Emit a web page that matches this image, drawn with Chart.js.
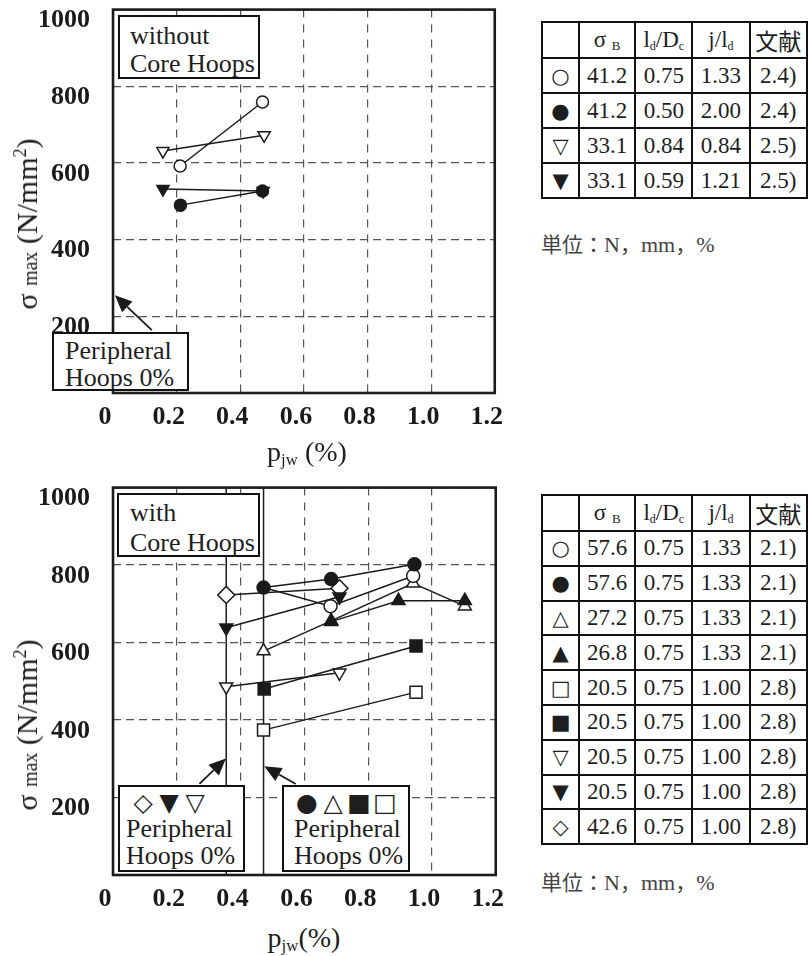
<!DOCTYPE html>
<html>
<head>
<meta charset="utf-8">
<script src="https://cdn.jsdelivr.net/npm/chart.js@4.4.1/dist/chart.umd.min.js"></script>
<style>
  html, body { margin: 0; padding: 0; background: #fff; }
  body { width: 808px; height: 956px; position: relative; overflow: hidden;
         font-family: "Liberation Serif", "Times New Roman", serif; color: #1e1e1e; }
  canvas { position: absolute; left: 0; }
  .box { position: absolute; background: #fff; border: 2px solid #111; box-sizing: border-box;
         font-size: 26px; line-height: 28px; overflow: hidden; white-space: nowrap; }
  .sym { display: inline-block; width: 26px; text-align: center; font-family: "DejaVu Sans"; }
  .title { position: absolute; white-space: nowrap; transform: translate(-50%, -50%); line-height: 1; }
  .ytitle { font-size: 30px; transform: translate(-50%, -50%) rotate(-90deg); }
  .xtitle { font-size: 28px; }
  sub { font-size: 0.6em; vertical-align: -0.25em; line-height: 0; }
  sup { font-size: 0.6em; vertical-align: 0.6em; line-height: 0; }
  table { position: absolute; left: 541px; border-collapse: collapse; table-layout: fixed; font-size: 23px; }
  td { border: 2px solid #111; text-align: center; padding: 0; white-space: nowrap; }
  td.s { font-family: "DejaVu Sans"; font-size: 21px; }
  td.cjk, .unit { font-family: "Noto Sans CJK JP"; }
  .unit { position: absolute; left: 541px; font-size: 21px; color: #444; }
  .unit span { font-family: "Liberation Serif"; font-size: 22px; }
</style>
</head>
<body>
<canvas id="topChart" width="520" height="469" style="top:-29px"></canvas>
<canvas id="botChart" width="521" height="473" style="top:449px"></canvas>

<div class="box" style="left:118px;top:15px;width:142px;height:64px;padding:5px 0 0 10px">without<br>Core Hoops</div>
<div class="box" style="left:52px;top:332px;width:137px;height:59px;padding:3px 0 0 11px;line-height:27px">Peripheral<br>Hoops 0%</div>

<div class="box" style="left:117px;top:493px;width:143px;height:64px;padding:3px 0 0 11px;line-height:30px">with<br>Core Hoops</div>
<div class="box" style="left:118px;top:785px;width:127px;height:87px;padding:4px 0 0 6px;line-height:27px">
  <div style="font-size:25px;line-height:24px;padding-left:4px"><span class="sym">◇</span><span class="sym">▼</span><span class="sym">▽</span></div>Peripheral<br>Hoops 0%</div>
<div class="box" style="left:282px;top:785px;width:128px;height:87px;padding:4px 0 0 10px;line-height:27px">
  <div style="font-size:25px;line-height:24px"><span class="sym">●</span><span class="sym">△</span><span class="sym">■</span><span class="sym">□</span></div>Peripheral<br>Hoops 0%</div>

<div class="title ytitle" style="left:27px;top:224px">σ <span style="font-size:20px">max</span> (N/mm<sup>2</sup>)</div>
<div class="title ytitle" style="left:27px;top:725px">σ <span style="font-size:20px">max</span> (N/mm<sup>2</sup>)</div>
<div class="title xtitle" style="left:307px;top:452px">p<sub>jw</sub> (%)</div>
<div class="title xtitle" style="left:304px;top:938px">p<sub>jw</sub>(%)</div>

<table id="topTable" style="top:21px"></table>
<div class="unit" style="top:228px">単位：<span>N</span>，<span>mm</span>，<span>%</span></div>
<table id="botTable" style="top:494px"></table>
<div class="unit" style="top:866px">単位：<span>N</span>，<span>mm</span>，<span>%</span></div>

<script>
// axis ticks
const xTickValues = [0, 0.2, 0.4, 0.6, 0.8, 1.0, 1.2];
const xTickLabels = ['0', '0.2', '0.4', '0.6', '0.8', '1.0', '1.2'];
const yTickValues = [0, 200, 400, 600, 800, 1000];
const yTickLabels = ['', '200', '400', '600', '800', '1000'];

// upper chart: without core hoops (p_jw %, sigma_max N/mm2)
const topOpenCircleX = [0.211, 0.470];
const topOpenCircleY = [592, 759];
const topFilledCircleX = [0.212, 0.470];
const topFilledCircleY = [490, 527];
const topOpenDownX = [0.157, 0.475];
const topOpenDownY = [631, 672];
const topFilledDownX = [0.157, 0.472];
const topFilledDownY = [532, 527];

// lower chart: with core hoops
const zeroHoopX = [0.355, 0.472];
const botOpenCircleX = [0.472, 0.682, 0.941];
const botOpenCircleY = [742, 694, 772];
const botFilledCircleX = [0.472, 0.684, 0.945];
const botFilledCircleY = [742, 764, 802];
const botOpenUpX = [0.472, 0.684, 0.941, 1.103];
const botOpenUpY = [578, 656, 753, 694];
const botFilledUpX = [0.684, 0.895, 1.103];
const botFilledUpY = [654, 708, 708];
const botOpenSquareX = [0.472, 0.950];
const botOpenSquareY = [374, 472];
const botFilledSquareX = [0.474, 0.950];
const botFilledSquareY = [480, 591];
const botOpenDownX = [0.355, 0.710];
const botOpenDownY = [486, 522];
const botFilledDownX = [0.355, 0.710];
const botFilledDownY = [638, 718];
const botDiamondX = [0.355, 0.710];
const botDiamondY = [723, 740];

// tables
const tableHead = ['', 'σ <sub style="font-size:13px">B</sub>', 'l<sub style="font-size:12px">d</sub>/D<sub style="font-size:12px">c</sub>', 'j/l<sub style="font-size:12px">d</sub>', '文献'];
const topSymbols = ['○', '●', '▽', '▼'];
const topSigmaB = ['41.2', '41.2', '33.1', '33.1'];
const topLdDc = ['0.75', '0.50', '0.84', '0.59'];
const topJLd = ['1.33', '2.00', '0.84', '1.21'];
const topRef = ['2.4)', '2.4)', '2.5)', '2.5)'];
const botSymbols = ['○', '●', '△', '▲', '□', '■', '▽', '▼', '◇'];
const botSigmaB = ['57.6', '57.6', '27.2', '26.8', '20.5', '20.5', '20.5', '20.5', '42.6'];
const botLdDc = ['0.75', '0.75', '0.75', '0.75', '0.75', '0.75', '0.75', '0.75', '0.75'];
const botJLd = ['1.33', '1.33', '1.33', '1.33', '1.00', '1.00', '1.00', '1.00', '1.00'];
const botRef = ['2.1)', '2.1)', '2.1)', '2.1)', '2.8)', '2.8)', '2.8)', '2.8)', '2.8)'];

const ink = '#1a1a1a';
const gridInk = '#555';
const tickFont = { family: 'Liberation Serif', size: 26, weight: 'bold' };

function buildTable(el, cols, rowH) {
    const widths = [38, 57, 58, 58, 58];
    el.innerHTML = '<colgroup>' + widths.map(w => `<col style="width:${w}px">`).join('') + '</colgroup>';
    const head = el.insertRow();
    tableHead.forEach((h, i) => {
        const c = head.insertCell();
        c.innerHTML = h;
        c.style.height = rowH + 'px';
        if (i === 4) c.className = 'cjk';
    });
    cols[0].forEach((_, r) => {
        const row = el.insertRow();
        cols.forEach((col, i) => {
            const c = row.insertCell();
            c.textContent = col[r];
            c.style.height = rowH + 'px';
            if (i === 0) c.className = 's';
        });
    });
}
buildTable(document.getElementById('topTable'), [topSymbols, topSigmaB, topLdDc, topJLd, topRef], 33);
buildTable(document.getElementById('botTable'), [botSymbols, botSigmaB, botLdDc, botJLd, botRef], 32.8);

const pts = (xs, ys) => xs.map((x, i) => ({ x, y: ys[i] }));

function series(xs, ys, shape, filled, radius, rotation) {
    return {
        data: pts(xs, ys),
        showLine: true,
        borderColor: ink,
        borderWidth: 1.5,
        pointStyle: shape,
        pointRotation: rotation || 0,
        pointRadius: radius,
        pointBorderWidth: 1.5,
        pointBorderColor: ink,
        pointBackgroundColor: filled ? ink : '#fff'
    };
}

function guide(x) {
    return {
        data: [{ x, y: 0 }, { x, y: 1000 }],
        showLine: true, borderColor: ink, borderWidth: 1.5, pointRadius: 0
    };
}

const framePlugin = {
    id: 'frame',
    afterDatasetsDraw(chart, args, opts) {
        const { ctx, chartArea: a, scales: { x, y } } = chart;
        ctx.save();
        ctx.fillStyle = ink;
        ctx.strokeStyle = ink;
        ctx.lineWidth = 1.8;
        (opts.arrows || []).forEach(([x0, y0, x1, y1]) => {
            const px0 = x.getPixelForValue(x0), py0 = y.getPixelForValue(y0);
            const px1 = x.getPixelForValue(x1), py1 = y.getPixelForValue(y1);
            const ang = Math.atan2(py1 - py0, px1 - px0);
            const len = 17, half = 7.5;
            const bx = px1 - Math.cos(ang) * len, by = py1 - Math.sin(ang) * len;
            ctx.beginPath();
            ctx.moveTo(px0, py0);
            ctx.lineTo(bx, by);
            ctx.stroke();
            ctx.beginPath();
            ctx.moveTo(px1, py1);
            ctx.lineTo(bx + Math.sin(ang) * half, by - Math.cos(ang) * half);
            ctx.lineTo(bx - Math.sin(ang) * half, by + Math.cos(ang) * half);
            ctx.closePath();
            ctx.fill();
        });
        ctx.lineWidth = 2.6;
        ctx.strokeRect(a.left, a.top, a.width, a.height);
        ctx.restore();
    }
};

function options(arrows) {
    return {
        responsive: false,
        animation: false,
        layout: { padding: { top: 19, right: 23, left: 0, bottom: 0 } },
        plugins: {
            legend: { display: false },
            tooltip: { enabled: false },
            frame: { arrows }
        },
        scales: {
            x: {
                type: 'linear', min: 0, max: 1.2,
                afterFit: s => { s.height = 47; },
                afterBuildTicks: s => { s.ticks = xTickValues.map(v => ({ value: v })); },
                ticks: { callback: (v, i) => xTickLabels[i], font: tickFont, color: ink,
                         padding: 9, labelOffset: -8, maxRotation: 0, autoSkip: false },
                grid: { color: gridInk, lineWidth: 1.2, drawTicks: false },
                border: { display: false, dash: [8, 7] }
            },
            y: {
                type: 'linear', min: 0, max: 1000,
                afterFit: s => { s.width = 113; },
                afterBuildTicks: s => { s.ticks = yTickValues.map(v => ({ value: v })); },
                ticks: { callback: (v, i) => yTickLabels[i], font: tickFont, color: ink,
                         padding: 23, labelOffset: 11, autoSkip: false },
                grid: { color: gridInk, lineWidth: 1.2, drawTicks: false },
                border: { display: false, dash: [8, 5] }
            }
        }
    };
}

new Chart(document.getElementById('topChart'), {
    type: 'scatter',
    data: {
        datasets: [
            series(topFilledDownX, topFilledDownY, 'triangle', true, 7, 180),
            series(topFilledCircleX, topFilledCircleY, 'circle', true, 6),
            series(topOpenDownX, topOpenDownY, 'triangle', false, 7, 180),
            series(topOpenCircleX, topOpenCircleY, 'circle', false, 6)
        ]
    },
    options: options([[0.122, 164, 0.006, 255]]),
    plugins: [framePlugin]
});

const openCircle = series(botOpenCircleX, botOpenCircleY, 'circle', false, 6.5);
openCircle.pointRadius = botOpenCircleX.map((_, i) => i === 0 ? 0 : 6.5);

new Chart(document.getElementById('botChart'), {
    type: 'scatter',
    data: {
        datasets: [
            series(botFilledCircleX, botFilledCircleY, 'circle', true, 6.5),
            series(botFilledUpX, botFilledUpY, 'triangle', true, 7.5),
            series(botFilledSquareX, botFilledSquareY, 'rect', true, 8.5),
            series(botFilledDownX, botFilledDownY, 'triangle', true, 7.5, 180),
            series(botDiamondX, botDiamondY, 'rectRot', false, 8.5),
            openCircle,
            series(botOpenUpX, botOpenUpY, 'triangle', false, 7.5),
            series(botOpenSquareX, botOpenSquareY, 'rect', false, 8.5),
            series(botOpenDownX, botOpenDownY, 'triangle', false, 7.5, 180),
            guide(zeroHoopX[0]),
            guide(zeroHoopX[1])
        ]
    },
    options: options([[0.271, 235, 0.354, 301], [0.573, 235, 0.474, 281]]),
    plugins: [framePlugin]
});
</script>
</body>
</html>
